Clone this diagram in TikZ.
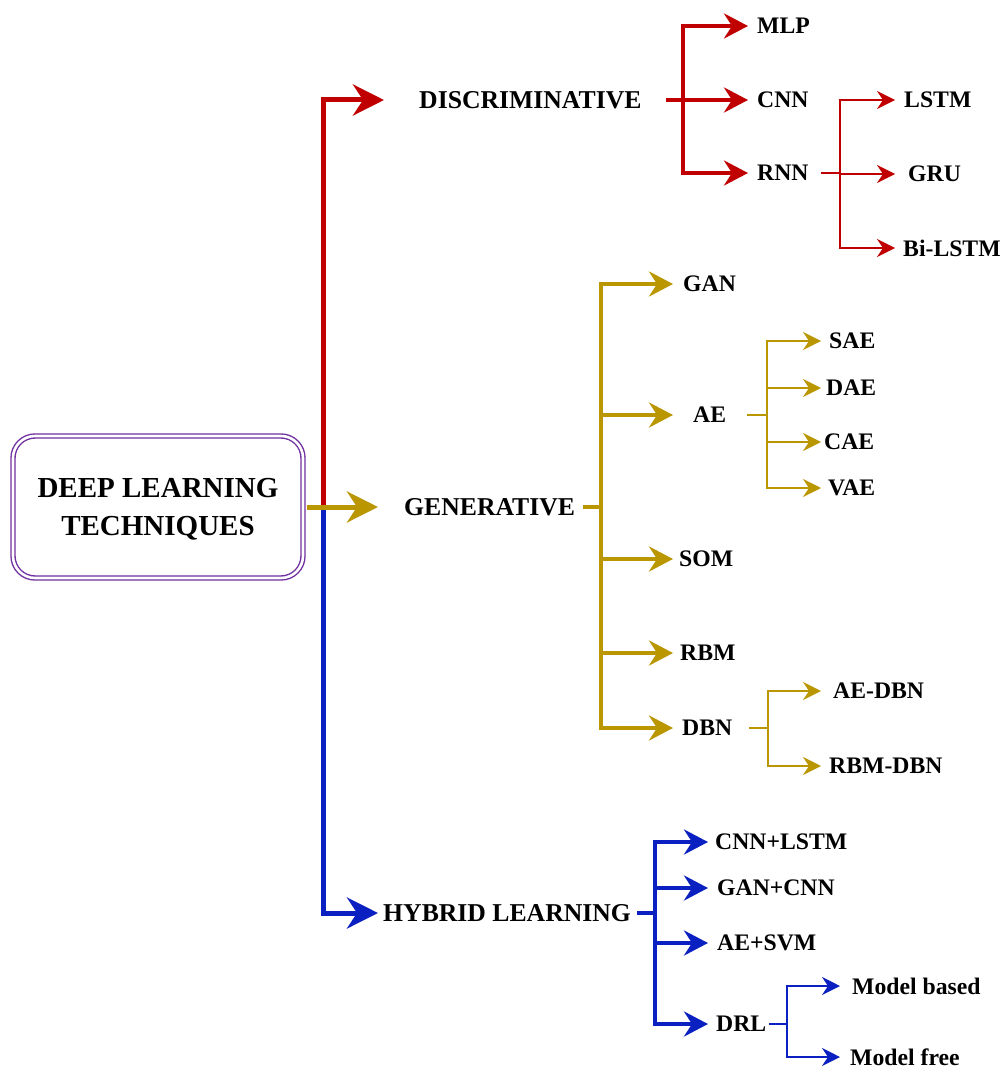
\documentclass[tikz,border=0pt]{standalone}
\usepackage{fontspec}
\setmainfont{Liberation Serif}
\usetikzlibrary{arrows.meta,calc}
\definecolor{discred}{RGB}{192,0,0}
\definecolor{gengold}{RGB}{186,150,0}
\definecolor{hybblue}{RGB}{10,32,192}
\definecolor{rootpurple}{RGB}{112,48,160}

\begin{document}
\begin{tikzpicture}[
  x=1pt,y=-1pt,
  rootbox/.style={draw=rootpurple,line width=1.4pt,double=white,double distance=2.6pt,rounded corners=22pt,
    minimum width=290pt,minimum height=142pt,align=center,text depth=0pt,font=\fontsize{29}{38}\selectfont\bfseries},
  toplabel/.style={anchor=west,inner sep=0pt,font=\fontsize{25.7}{30}\selectfont\bfseries},
  leaflabel/.style={anchor=west,inner sep=0pt,font=\fontsize{23.7}{28}\selectfont\bfseries},
  arrbig/.style={line width=5pt,-{Stealth[length=31pt,width=31pt,inset=10pt]}},
  arrmid/.style={line width=4pt,-{Stealth[length=24pt,width=25pt,inset=8pt]}},
  arrthin/.style={line width=1.8pt,-{Stealth[length=18pt,width=18pt,inset=6pt]}},
  stub/.style={line width=4pt},
  thinstub/.style={line width=1.8pt}
]
  \useasboundingbox (0,0) rectangle (1003,1070);

  \node[rootbox] (root) at (158,507) {DEEP LEARNING\\TECHNIQUES};
  \coordinate (hub) at (323,507);

  \node[toplabel] (disc) at (419,100) {DISCRIMINATIVE};
  \node[toplabel] (gen) at (404,507) {GENERATIVE};
  \node[toplabel] (hyb) at (383,913) {HYBRID LEARNING};

  \node[leaflabel] (mlp) at (757,26) {MLP};
  \node[leaflabel] (cnn) at (757,100) {CNN};
  \node[leaflabel] (rnn) at (757,173) {RNN};
  \node[leaflabel] (lstm) at (904,100) {LSTM};
  \node[leaflabel] (gru) at (908,174) {GRU};
  \node[leaflabel] (bilstm) at (903,248) {Bi-LSTM};

  \node[leaflabel] (gan) at (683,284) {GAN};
  \node[leaflabel] (ae) at (693,415) {AE};
  \node[leaflabel] (som) at (679,559) {SOM};
  \node[leaflabel] (rbm) at (680,653) {RBM};
  \node[leaflabel] (dbn) at (682,728) {DBN};
  \node[leaflabel] (sae) at (829,341) {SAE};
  \node[leaflabel] (dae) at (826,388) {DAE};
  \node[leaflabel] (cae) at (824,442) {CAE};
  \node[leaflabel] (vae) at (828,488) {VAE};
  \node[leaflabel] (aedbn) at (833,691) {AE-DBN};
  \node[leaflabel] (rbmdbn) at (829,766) {RBM-DBN};

  \node[leaflabel] (cnnlstm) at (715,842) {CNN+LSTM};
  \node[leaflabel] (gancnn) at (717,888) {GAN+CNN};
  \node[leaflabel] (aesvm) at (717,943) {AE+SVM};
  \node[leaflabel] (drl) at (716,1024) {DRL};
  \node[leaflabel] (mbased) at (852,986) {Model based};
  \node[leaflabel] (mfree) at (850,1057) {Model free};

  \coordinate (tipD) at (384,0);
  \coordinate (tipG) at (378,0);
  \coordinate (tipR2) at (748,0);
  \coordinate (tipR3) at (895,0);
  \coordinate (tipG2) at (673,0);
  \coordinate (tipG3) at (821,0);
  \coordinate (tipB2) at (708,0);
  \coordinate (tipB3) at (840,0);

  \draw[arrbig,discred] (hub) |- (disc.west -| tipD);
  \draw[arrbig,hybblue] (hub) |- (hyb.west -| tipG);
  \draw[arrbig,gengold] ([xshift=3]root.east) -- (gen.west -| tipG);

  \coordinate (djoin) at (683,100);
  \draw[stub,discred] ([xshift=24]disc.east) -- (djoin);
  \foreach \n in {mlp,cnn,rnn}
    \draw[arrmid,discred] (djoin) |- (\n.west -| tipR2);
  \coordinate (rjoin) at (840,173);
  \draw[thinstub,discred] ([xshift=12]rnn.east) -- (rjoin);
  \foreach \n in {lstm,gru,bilstm}
    \draw[arrthin,discred] (rjoin) |- (\n.west -| tipR3);

  \coordinate (gjoin) at (601,507);
  \draw[stub,gengold] ([xshift=8]gen.east) -- (gjoin);
  \foreach \n in {gan,ae,som,rbm,dbn}
    \draw[arrmid,gengold] (gjoin) |- (\n.west -| tipG2);
  \coordinate (ajoin) at (767,415);
  \draw[thinstub,gengold] ([xshift=21]ae.east) -- (ajoin);
  \foreach \n in {sae,dae,cae,vae}
    \draw[arrthin,gengold] (ajoin) |- (\n.west -| tipG3);
  \coordinate (bjoin) at (768,728);
  \draw[thinstub,gengold] ([xshift=17]dbn.east) -- (bjoin);
  \foreach \n in {aedbn,rbmdbn}
    \draw[arrthin,gengold] (bjoin) |- (\n.west -| tipG3);

  \coordinate (hjoin) at (655,913);
  \draw[stub,hybblue] ([xshift=6]hyb.east) -- (hjoin);
  \foreach \n in {cnnlstm,gancnn,aesvm,drl}
    \draw[arrmid,hybblue] (hjoin) |- (\n.west -| tipB2);
  \coordinate (mjoin) at (787,1024);
  \draw[thinstub,hybblue] ([xshift=3]drl.east) -- (mjoin);
  \foreach \n in {mbased,mfree}
    \draw[arrthin,hybblue] (mjoin) |- (\n.west -| tipB3);
\end{tikzpicture}
\end{document}
